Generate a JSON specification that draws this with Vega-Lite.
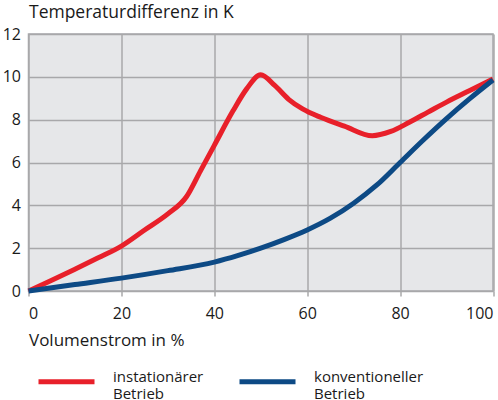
{
  "$schema": "https://vega.github.io/schema/vega-lite/v6.json",
  "autosize": "none",
  "width": 464.5,
  "height": 257,
  "padding": {"left": 28.5, "top": 34, "right": 5, "bottom": 109},
  "background": "white",
  "data": {
    "values": [
      {"Betrieb": "instationärer|Betrieb", "Volumenstrom": 0, "dT": 0},
      {"Betrieb": "instationärer|Betrieb", "Volumenstrom": 5, "dT": 0.5},
      {"Betrieb": "instationärer|Betrieb", "Volumenstrom": 10, "dT": 1.02},
      {"Betrieb": "instationärer|Betrieb", "Volumenstrom": 15, "dT": 1.55},
      {"Betrieb": "instationärer|Betrieb", "Volumenstrom": 20, "dT": 2.1},
      {"Betrieb": "instationärer|Betrieb", "Volumenstrom": 25, "dT": 2.85},
      {"Betrieb": "instationärer|Betrieb", "Volumenstrom": 30, "dT": 3.6},
      {"Betrieb": "instationärer|Betrieb", "Volumenstrom": 34, "dT": 4.4},
      {"Betrieb": "instationärer|Betrieb", "Volumenstrom": 37, "dT": 5.6},
      {"Betrieb": "instationärer|Betrieb", "Volumenstrom": 40, "dT": 6.8},
      {"Betrieb": "instationärer|Betrieb", "Volumenstrom": 44, "dT": 8.4},
      {"Betrieb": "instationärer|Betrieb", "Volumenstrom": 47, "dT": 9.45},
      {"Betrieb": "instationärer|Betrieb", "Volumenstrom": 50, "dT": 10.1},
      {"Betrieb": "instationärer|Betrieb", "Volumenstrom": 53, "dT": 9.6},
      {"Betrieb": "instationärer|Betrieb", "Volumenstrom": 56, "dT": 8.95},
      {"Betrieb": "instationärer|Betrieb", "Volumenstrom": 59, "dT": 8.5},
      {"Betrieb": "instationärer|Betrieb", "Volumenstrom": 63, "dT": 8.1},
      {"Betrieb": "instationärer|Betrieb", "Volumenstrom": 68, "dT": 7.7},
      {"Betrieb": "instationärer|Betrieb", "Volumenstrom": 74, "dT": 7.25},
      {"Betrieb": "instationärer|Betrieb", "Volumenstrom": 78, "dT": 7.45},
      {"Betrieb": "instationärer|Betrieb", "Volumenstrom": 82, "dT": 7.88},
      {"Betrieb": "instationärer|Betrieb", "Volumenstrom": 86, "dT": 8.35},
      {"Betrieb": "instationärer|Betrieb", "Volumenstrom": 90, "dT": 8.82},
      {"Betrieb": "instationärer|Betrieb", "Volumenstrom": 95, "dT": 9.36},
      {"Betrieb": "instationärer|Betrieb", "Volumenstrom": 100, "dT": 9.9},
      {"Betrieb": "konventioneller|Betrieb", "Volumenstrom": 0, "dT": 0},
      {"Betrieb": "konventioneller|Betrieb", "Volumenstrom": 10, "dT": 0.3},
      {"Betrieb": "konventioneller|Betrieb", "Volumenstrom": 20, "dT": 0.6},
      {"Betrieb": "konventioneller|Betrieb", "Volumenstrom": 30, "dT": 0.95},
      {"Betrieb": "konventioneller|Betrieb", "Volumenstrom": 40, "dT": 1.35},
      {"Betrieb": "konventioneller|Betrieb", "Volumenstrom": 45, "dT": 1.65},
      {"Betrieb": "konventioneller|Betrieb", "Volumenstrom": 50, "dT": 2.0},
      {"Betrieb": "konventioneller|Betrieb", "Volumenstrom": 55, "dT": 2.4},
      {"Betrieb": "konventioneller|Betrieb", "Volumenstrom": 60, "dT": 2.85},
      {"Betrieb": "konventioneller|Betrieb", "Volumenstrom": 65, "dT": 3.4},
      {"Betrieb": "konventioneller|Betrieb", "Volumenstrom": 70, "dT": 4.1},
      {"Betrieb": "konventioneller|Betrieb", "Volumenstrom": 75, "dT": 4.95},
      {"Betrieb": "konventioneller|Betrieb", "Volumenstrom": 80, "dT": 6.0},
      {"Betrieb": "konventioneller|Betrieb", "Volumenstrom": 85, "dT": 7.05},
      {"Betrieb": "konventioneller|Betrieb", "Volumenstrom": 90, "dT": 8.05},
      {"Betrieb": "konventioneller|Betrieb", "Volumenstrom": 95, "dT": 8.98},
      {"Betrieb": "konventioneller|Betrieb", "Volumenstrom": 100, "dT": 9.85}
    ]
  },
  "mark": {"type": "line", "interpolate": "monotone", "strokeWidth": 5, "clip": false},
  "encoding": {
    "x": {
      "field": "Volumenstrom",
      "type": "quantitative",
      "scale": {"domain": [0, 100], "nice": false},
      "axis": {
        "values": [0, 20, 40, 60, 80, 100],
        "title": "Volumenstrom in %",
        "titleAnchor": "start",
        "titleAlign": "left",
        "titleX": 0,
        "titleY": 49,
        "titleBaseline": "middle",
        "labelFlush": true,
        "tickSize": 5,
        "labelPadding": 9
      }
    },
    "y": {
      "field": "dT",
      "type": "quantitative",
      "scale": {"domain": [0, 12], "nice": false},
      "axis": {
        "values": [0, 2, 4, 6, 8, 10, 12],
        "title": "Temperaturdifferenz in K",
        "titleAngle": 0,
        "titleAlign": "left",
        "titleBaseline": "middle",
        "titleX": 0,
        "titleY": -22,
        "titleFontSize": 17.5,
        "ticks": false,
        "labelPadding": 8
      }
    },
    "color": {
      "field": "Betrieb",
      "type": "nominal",
      "scale": {"range": ["#e8202a", "#0d4a85"]},
      "legend": {
        "title": null,
        "orient": "none",
        "direction": "horizontal",
        "legendX": 7.5,
        "legendY": 317,
        "padding": 0,
        "symbolType": "stroke",
        "symbolSize": 3136,
        "symbolStrokeWidth": 5,
        "labelOffset": 16,
        "columnPadding": 25,
        "labelExpr": "split(datum.label, '|')",
        "labelFontSize": 15,
        "labelBaseline": "alphabetic",
        "labelColor": "#1a1a1a",
        "labelFont": "Open Sans",
        "labelLineHeight": 13
      }
    }
  },
  "config": {
    "font": "Open Sans",
    "view": {"fill": "#e6e7e9", "stroke": "#a8a8aa", "strokeWidth": 1.5},
    "axis": {
      "domain": false,
      "grid": true,
      "gridColor": "#a8a8aa",
      "gridWidth": 1.5,
      "gridOpacity": 1,
      "tickColor": "#a8a8aa",
      "tickWidth": 1.5,
      "labelFontSize": 16,
      "labelColor": "#1a1a1a",
      "labelFont": "Open Sans",
      "titleFontSize": 17,
      "titleFontWeight": "normal",
      "titleColor": "#1a1a1a",
      "titleFont": "Open Sans"
    }
  }
}
